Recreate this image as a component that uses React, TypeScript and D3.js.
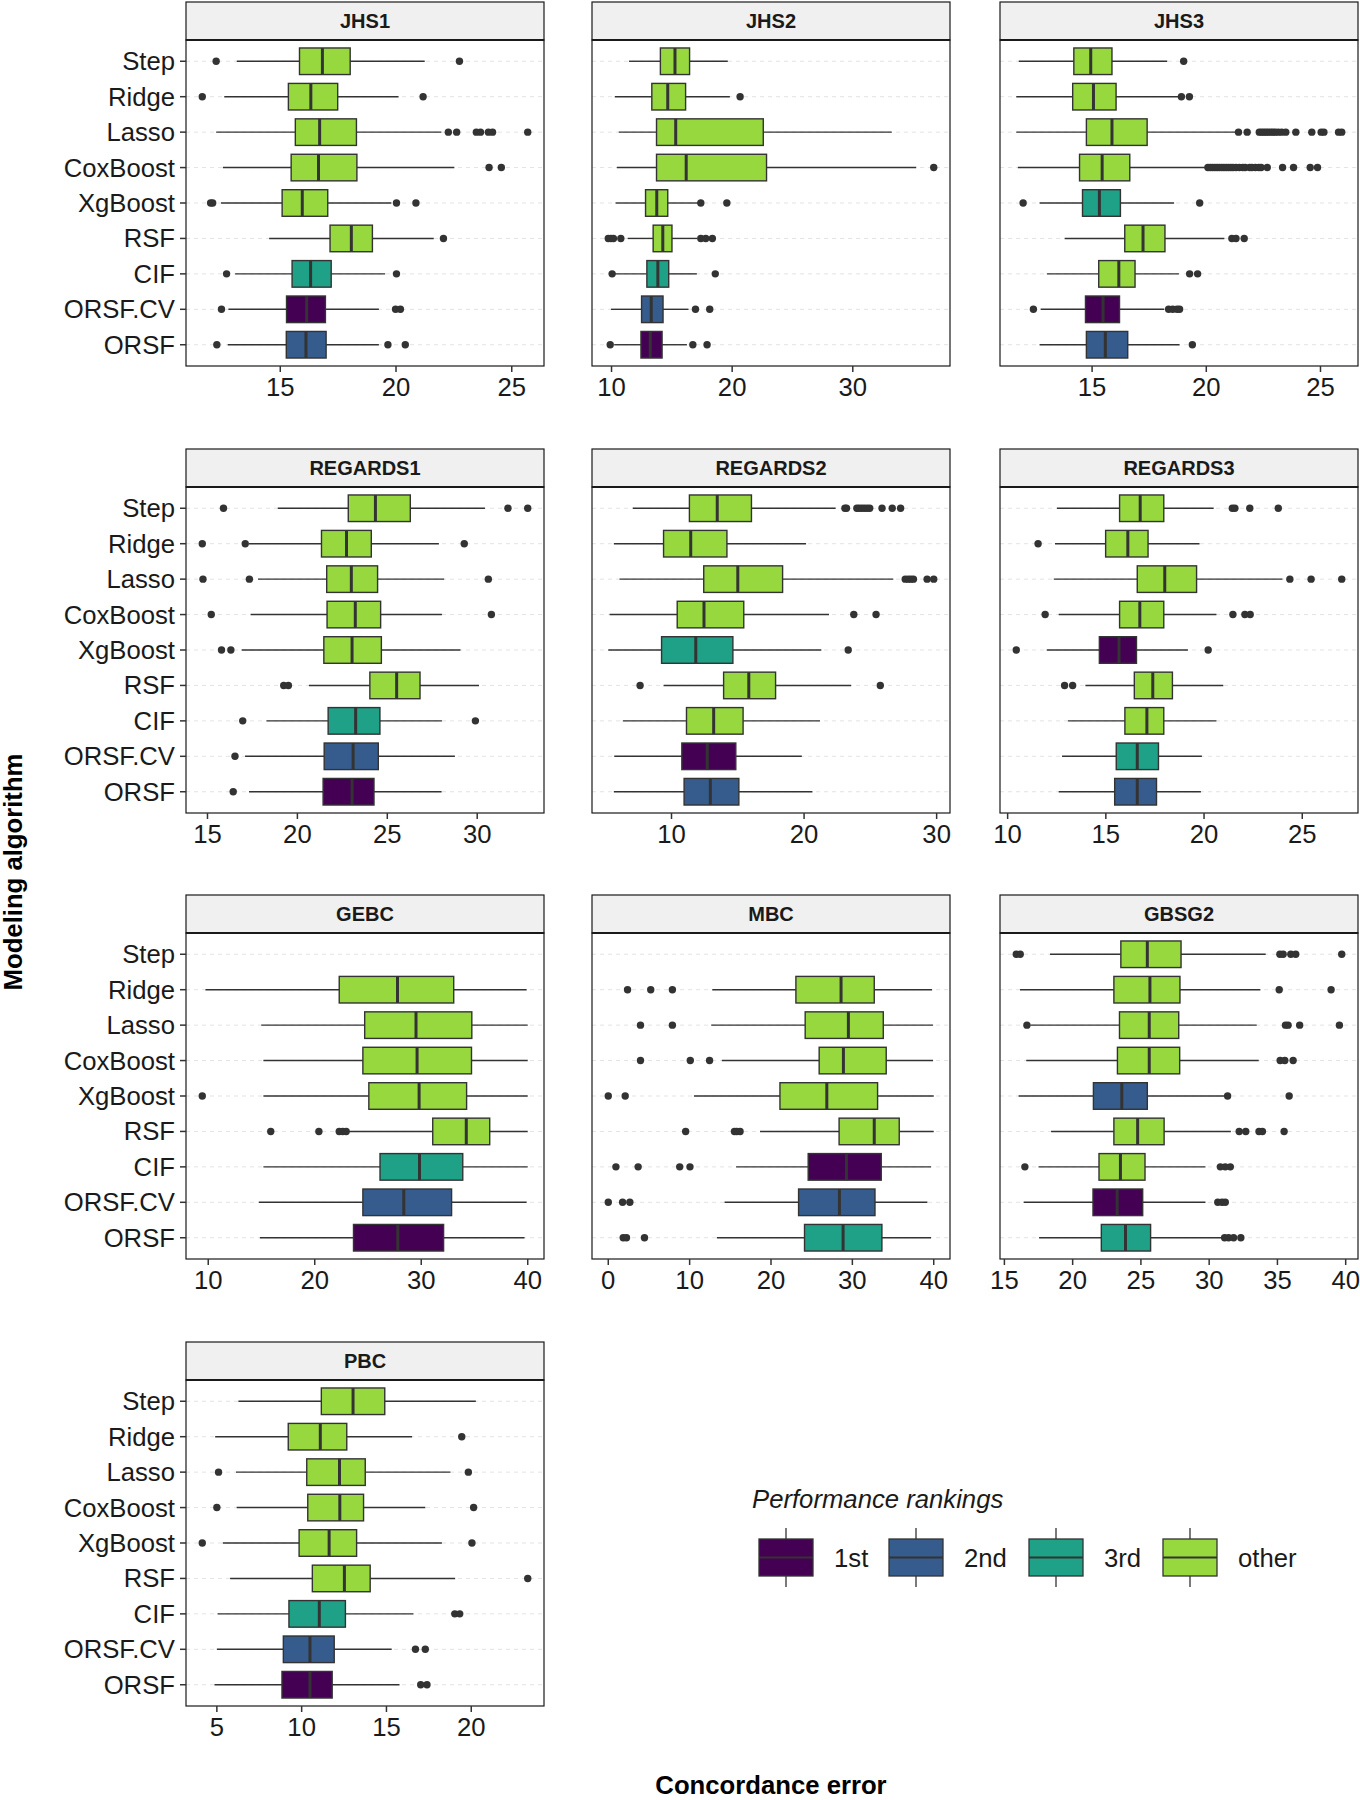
import React from "react";
import * as d3 from "d3";

const CATEGORIES = ["Step", "Ridge", "Lasso", "CoxBoost", "XgBoost", "RSF", "CIF", "ORSF.CV", "ORSF"];
const RANK_LABELS = ["1st", "2nd", "3rd", "other"];
const RANK_COLORS = ["#440154", "#365C8D", "#1FA187", "#97D83F"];

type Stat = number[] | null;

// [lower whisker, Q1, median, Q3, upper whisker], one per category
const JHS1_BOX: Stat[] = [
  [13.12, 15.83, 16.82, 18.02, 21.24], [12.58, 15.35, 16.32, 17.48, 20.11], [12.23, 15.65, 16.7, 18.29, 21.96],
  [12.52, 15.47, 16.65, 18.31, 22.52], [12.44, 15.08, 15.95, 17.05, 19.8], [14.52, 17.15, 18.07, 18.98, 21.63],
  [13.05, 15.51, 16.31, 17.2, 19.53], [12.76, 15.27, 16.14, 16.95, 19.26], [12.73, 15.26, 16.11, 16.98, 19.26],
];
const JHS1_OUT = [[12.23, 22.74], [11.63, 21.17], [22.26, 22.62, 23.47, 23.65, 23.99, 24.17, 25.69], [24.02, 24.55], [11.99, 12.08, 20.02, 20.86], [22.05], [12.68, 20.02], [12.46, 19.98, 20.19], [12.26, 19.65, 20.4]];
const JHS1_RANK = [3, 3, 3, 3, 3, 3, 2, 0, 1];
const JHS1_TICKS = [15, 20, 25];

const JHS2_BOX: Stat[] = [
  [11.45, 14.05, 15.26, 16.47, 19.64], [10.27, 13.34, 14.66, 16.14, 19.81], [10.6, 13.73, 15.32, 22.58, 33.23],
  [10.44, 13.73, 16.19, 22.85, 35.26], [10.33, 12.82, 13.75, 14.66, 17.2], [11.34, 13.45, 14.25, 15.01, 17.1],
  [10.15, 12.93, 13.84, 14.74, 17.07], [9.95, 12.49, 13.29, 14.27, 16.38], [10.22, 12.44, 13.21, 14.19, 16.25],
];
const JHS2_OUT = [[], [20.66], [], [36.71], [17.4, 19.56], [9.73, 9.95, 10.16, 10.77, 17.4, 17.81, 18.36], [10.05, 18.6], [16.96, 18.14], [9.89, 16.74, 17.92]];
const JHS2_RANK = [3, 3, 3, 3, 3, 3, 2, 1, 0];
const JHS2_TICKS = [10, 20, 30];

const JHS3_BOX: Stat[] = [
  [11.79, 14.2, 14.94, 15.87, 18.29], [11.68, 14.15, 15.06, 16.05, 18.79], [11.68, 14.75, 15.87, 17.41, 21.27],
  [11.75, 14.45, 15.44, 16.65, 19.96], [12.7, 14.58, 15.32, 16.24, 18.59], [13.8, 16.43, 17.23, 18.19, 20.79],
  [13.02, 15.29, 16.17, 16.88, 18.8], [12.75, 14.71, 15.48, 16.2, 18.16], [12.7, 14.75, 15.58, 16.56, 18.83],
];
const JHS3_OUT = [
  [19.01], [18.91, 19.26],
  [21.41, 21.79, 22.32, 22.42, 22.52, 22.62, 22.72, 22.82, 22.92, 23.02, 23.15, 23.3, 23.48, 23.92, 24.62, 25.03, 25.15, 25.79, 25.93],
  [20.07, 20.17, 20.27, 20.37, 20.47, 20.57, 20.67, 20.77, 20.87, 20.97, 21.07, 21.17, 21.3, 21.45, 21.6, 21.7, 21.9, 22.0, 22.15, 22.3, 22.4, 22.67, 23.34, 23.82, 24.55, 24.87],
  [11.98, 19.71], [21.12, 21.3, 21.66], [19.27, 19.62], [12.43, 18.35, 18.53, 18.72, 18.83], [19.39],
];
const JHS3_RANK = [3, 3, 3, 3, 2, 3, 3, 0, 1];
const JHS3_TICKS = [15, 20, 25];

const REGARDS1_BOX: Stat[] = [
  [18.91, 22.83, 24.34, 26.28, 30.43], [17.3, 21.34, 22.73, 24.11, 27.87], [17.81, 21.63, 23.0, 24.46, 28.16],
  [17.4, 21.65, 23.22, 24.63, 28.04], [16.9, 21.47, 23.04, 24.67, 29.07], [20.64, 24.03, 25.52, 26.82, 30.1],
  [18.28, 21.71, 23.24, 24.59, 28.04], [17.09, 21.49, 23.1, 24.5, 28.76], [17.31, 21.43, 23.04, 24.26, 28.02],
];
const REGARDS1_OUT = [[15.89, 31.71, 32.81], [14.71, 17.1, 29.28], [14.75, 17.33, 30.62], [15.21, 30.79], [15.78, 16.3], [19.24, 19.5], [16.96, 29.9], [16.53], [16.43]];
const REGARDS1_RANK = [3, 3, 3, 3, 3, 3, 2, 1, 0];
const REGARDS1_TICKS = [15, 20, 25, 30];

const REGARDS2_BOX: Stat[] = [
  [7.08, 11.35, 13.45, 16.03, 22.38], [5.65, 9.4, 11.45, 14.18, 20.15], [6.08, 12.43, 15.0, 18.38, 26.73],
  [5.33, 10.43, 12.45, 15.45, 21.88], [5.23, 9.25, 11.83, 14.63, 21.3], [9.4, 13.93, 15.83, 17.85, 23.55],
  [6.33, 11.13, 13.18, 15.4, 21.2], [5.68, 10.78, 12.7, 14.85, 19.83], [5.65, 10.95, 12.93, 15.08, 20.63],
];
const REGARDS2_OUT = [[23.08, 23.2, 23.98, 24.15, 24.35, 24.55, 24.75, 24.95, 25.88, 26.65, 27.28], [], [27.63, 27.85, 28.05, 28.25, 29.28, 29.78], [23.75, 25.43], [23.33], [7.63, 25.75], [], [], []];
const REGARDS2_RANK = [3, 3, 3, 3, 2, 3, 3, 0, 1];
const REGARDS2_TICKS = [10, 20, 30];

const REGARDS3_BOX: Stat[] = [
  [12.51, 15.7, 16.75, 17.95, 20.49], [12.41, 14.99, 16.12, 17.15, 19.77], [12.35, 16.6, 18.0, 19.62, 23.99],
  [12.6, 15.7, 16.73, 17.95, 20.63], [11.99, 14.67, 15.67, 16.56, 19.18], [13.96, 16.45, 17.39, 18.39, 20.98],
  [13.07, 15.97, 17.09, 17.95, 20.63], [12.77, 15.53, 16.6, 17.68, 19.89], [12.6, 15.45, 16.6, 17.58, 19.84],
];
const REGARDS3_OUT = [[21.44, 21.57, 22.33, 23.78], [11.55], [24.37, 25.45, 27.01], [11.91, 21.47, 22.08, 22.35], [10.44, 20.21], [12.9, 13.31], [], [], []];
const REGARDS3_RANK = [3, 3, 3, 3, 0, 3, 3, 2, 1];
const REGARDS3_TICKS = [10, 15, 20, 25];

const GEBC_BOX: Stat[] = [
  null, [9.74, 22.3, 27.77, 33.05, 39.9], [14.98, 24.69, 29.51, 34.75, 40.0],
  [15.18, 24.52, 29.61, 34.72, 40.0], [15.18, 25.08, 29.8, 34.26, 40.0], [23.21, 31.08, 34.23, 36.43, 40.0],
  [15.18, 26.13, 29.84, 33.9, 40.0], [14.75, 24.52, 28.36, 32.85, 39.9], [14.85, 23.64, 27.8, 32.1, 39.7],
];
const GEBC_OUT = [[], [], [], [], [9.44], [15.87, 20.39, 22.3, 22.62, 22.95], [], [], []];
const GEBC_RANK = [3, 3, 3, 3, 3, 3, 2, 1, 0];
const GEBC_TICKS = [10, 20, 30, 40];

const MBC_BOX: Stat[] = [
  null, [12.78, 23.06, 28.61, 32.69, 39.8], [12.65, 24.2, 29.51, 33.8, 39.92],
  [13.96, 25.92, 28.9, 34.16, 39.92], [10.53, 21.1, 26.86, 33.1, 40.0], [18.65, 28.37, 32.69, 35.76, 40.0],
  [15.71, 24.57, 29.27, 33.55, 39.67], [14.29, 23.39, 28.41, 32.78, 39.22], [13.35, 24.12, 28.86, 33.63, 39.67],
];
const MBC_OUT = [[], [2.37, 5.22, 7.88], [3.96, 7.88], [3.96, 10.08, 12.45], [0, 2.08], [9.51, 15.51, 15.8, 16.2], [0.94, 3.67, 8.78, 10.04], [0, 1.76, 2.65], [1.84, 2.24, 4.45]];
const MBC_RANK = [3, 3, 3, 3, 3, 3, 0, 1, 2];
const MBC_TICKS = [0, 10, 20, 30, 40];

const GBSG2_BOX: Stat[] = [
  [18.34, 23.53, 25.47, 27.94, 34.14], [16.14, 23.02, 25.66, 27.86, 33.75], [16.9, 23.43, 25.61, 27.77, 33.48],
  [16.6, 23.28, 25.61, 27.84, 33.63], [16.04, 21.52, 23.6, 25.47, 31.2], [18.42, 23.02, 24.76, 26.7, 31.59],
  [17.5, 21.93, 23.5, 25.3, 29.73], [16.41, 21.49, 23.26, 25.13, 29.73], [17.54, 22.1, 23.87, 25.71, 30.9],
];
const GBSG2_OUT = [[15.87, 16.16, 35.18, 35.42, 35.98, 36.34, 39.71], [35.13, 38.93], [16.65, 35.59, 35.78, 36.63, 39.54], [35.2, 35.54, 36.15], [31.35, 35.86], [32.2, 32.68, 33.65, 33.9, 35.49], [16.5, 30.82, 31.18, 31.55], [30.63, 30.94, 31.18], [31.13, 31.42, 31.79, 32.32]];
const GBSG2_RANK = [3, 3, 3, 3, 1, 3, 3, 0, 2];
const GBSG2_TICKS = [15, 20, 25, 30, 35, 40];

const PBC_BOX: Stat[] = [
  [6.27, 11.16, 13.03, 14.9, 20.27], [4.9, 9.21, 11.1, 12.66, 16.51], [6.13, 10.3, 12.23, 13.75, 18.77],
  [6.17, 10.36, 12.25, 13.65, 17.29], [5.35, 9.85, 11.62, 13.24, 18.27], [5.78, 10.63, 12.52, 14.04, 19.05],
  [5.04, 9.25, 11.04, 12.58, 16.59], [5.0, 8.92, 10.49, 11.92, 15.31], [4.86, 8.84, 10.49, 11.8, 15.77],
];
const PBC_OUT = [[], [19.44], [5.1, 19.83], [5.0, 20.14], [4.14, 20.04], [23.33], [19.03, 19.32], [16.71, 17.29], [17.02, 17.39]];
const PBC_RANK = [3, 3, 3, 3, 3, 3, 2, 1, 0];
const PBC_TICKS = [5, 10, 15, 20];

const PANELS = [
  { name: "JHS1", box: JHS1_BOX, out: JHS1_OUT, rank: JHS1_RANK, ticks: JHS1_TICKS },
  { name: "JHS2", box: JHS2_BOX, out: JHS2_OUT, rank: JHS2_RANK, ticks: JHS2_TICKS },
  { name: "JHS3", box: JHS3_BOX, out: JHS3_OUT, rank: JHS3_RANK, ticks: JHS3_TICKS },
  { name: "REGARDS1", box: REGARDS1_BOX, out: REGARDS1_OUT, rank: REGARDS1_RANK, ticks: REGARDS1_TICKS },
  { name: "REGARDS2", box: REGARDS2_BOX, out: REGARDS2_OUT, rank: REGARDS2_RANK, ticks: REGARDS2_TICKS },
  { name: "REGARDS3", box: REGARDS3_BOX, out: REGARDS3_OUT, rank: REGARDS3_RANK, ticks: REGARDS3_TICKS },
  { name: "GEBC", box: GEBC_BOX, out: GEBC_OUT, rank: GEBC_RANK, ticks: GEBC_TICKS },
  { name: "MBC", box: MBC_BOX, out: MBC_OUT, rank: MBC_RANK, ticks: MBC_TICKS },
  { name: "GBSG2", box: GBSG2_BOX, out: GBSG2_OUT, rank: GBSG2_RANK, ticks: GBSG2_TICKS },
  { name: "PBC", box: PBC_BOX, out: PBC_OUT, rank: PBC_RANK, ticks: PBC_TICKS },
];

const FONT = "'Liberation Sans', Arial, Helvetica, sans-serif";
const COL_LEFT = [186, 592, 1000];
const PANEL_W = 358;
const ROW_TOP = [2, 449, 895, 1342];
const STRIP_H = 38;
const BODY_H = 326;
const INK = "#333333";
const LABEL_SIZE = 25.7;

function Panel({ p, idx }: { p: any; idx: number }) {
  const row = Math.floor(idx / 3);
  const col = idx % 3;
  const x0 = COL_LEFT[col];
  const x1 = x0 + PANEL_W;
  const sTop = ROW_TOP[row];
  const bTop = sTop + STRIP_H;
  const bBot = bTop + BODY_H;

  const all: number[] = [];
  p.box.forEach((b: Stat) => b && all.push(...b));
  p.out.forEach((o: number[]) => all.push(...o));
  const [mn, mx] = d3.extent(all) as [number, number];
  const pad = (mx - mn) * 0.05;
  const x = d3.scaleLinear().domain([mn - pad, mx + pad]).range([x0, x1]);
  const y = d3.scalePoint<string>().domain(CATEGORIES).range([bTop, bBot]).padding(0.6);
  const bh = y.step() * 0.75;

  return (
    <g>
      <rect x={x0} y={sTop} width={PANEL_W} height={STRIP_H} fill="#F0F0F0" stroke="#1a1a1a" strokeWidth={1.2} />
      <text x={(x0 + x1) / 2} y={sTop + STRIP_H / 2 + 7} textAnchor="middle" fontFamily={FONT} fontWeight="bold" fontSize={20} fill="#1a1a1a">
        {p.name}
      </text>
      <rect x={x0} y={bTop} width={PANEL_W} height={BODY_H} fill="#ffffff" />
      {CATEGORIES.map((c) => (
        <line key={"g" + c} x1={x0} x2={x1} y1={y(c)} y2={y(c)} stroke="#E3E3E3" strokeWidth={1} strokeDasharray="4,4" />
      ))}
      {CATEGORIES.map((c, i) => {
        const b = p.box[i];
        const cy = y(c) as number;
        const fill = RANK_COLORS[p.rank[i]];
        return (
          <g key={"b" + c}>
            {b && (
              <>
                <line x1={x(b[0])} x2={x(b[1])} y1={cy} y2={cy} stroke={INK} strokeWidth={1.4} />
                <line x1={x(b[3])} x2={x(b[4])} y1={cy} y2={cy} stroke={INK} strokeWidth={1.4} />
                <rect x={x(b[1])} y={cy - bh / 2} width={x(b[3]) - x(b[1])} height={bh} fill={fill} stroke={INK} strokeWidth={1.4} />
                <line x1={x(b[2])} x2={x(b[2])} y1={cy - bh / 2} y2={cy + bh / 2} stroke={INK} strokeWidth={3} />
              </>
            )}
            {p.out[i].map((v: number, k: number) => (
              <circle key={k} cx={x(v)} cy={cy} r={3.7} fill={INK} />
            ))}
          </g>
        );
      })}
      <rect x={x0} y={bTop} width={PANEL_W} height={BODY_H} fill="none" stroke="#1a1a1a" strokeWidth={1.2} />
      <line x1={x0} x2={x1} y1={bTop} y2={bTop} stroke="#1a1a1a" strokeWidth={2} />
      {p.ticks.map((t: number) => (
        <g key={"t" + t}>
          <line x1={x(t)} x2={x(t)} y1={bBot} y2={bBot + 6} stroke={INK} strokeWidth={1.5} />
          <text x={x(t)} y={bBot + 30} textAnchor="middle" fontFamily={FONT} fontSize={LABEL_SIZE} fill="#1a1a1a">
            {t}
          </text>
        </g>
      ))}
      {col === 0 &&
        CATEGORIES.map((c) => (
          <g key={"y" + c}>
            <line x1={x0 - 6} x2={x0} y1={y(c)} y2={y(c)} stroke={INK} strokeWidth={1.5} />
            <text x={x0 - 11} y={(y(c) as number) + 9} textAnchor="end" fontFamily={FONT} fontSize={LABEL_SIZE} fill="#1a1a1a">
              {c}
            </text>
          </g>
        ))}
    </g>
  );
}

function Legend() {
  const keyX = [759, 889, 1029, 1163];
  const keyW = 54;
  const top = 1539;
  const h = 37;
  return (
    <g>
      <text x={752} y={1508} fontFamily={FONT} fontStyle="italic" fontSize={LABEL_SIZE} fill="#1a1a1a">
        Performance rankings
      </text>
      {RANK_LABELS.map((lab, i) => {
        const kx = keyX[i];
        const cx = kx + keyW / 2;
        return (
          <g key={lab}>
            <line x1={cx} x2={cx} y1={top - 11} y2={top + h + 11} stroke={INK} strokeWidth={1.3} />
            <rect x={kx} y={top} width={keyW} height={h} fill={RANK_COLORS[i]} stroke={INK} strokeWidth={1.3} />
            <line x1={kx} x2={kx + keyW} y1={top + h / 2} y2={top + h / 2} stroke={INK} strokeWidth={2.2} />
            <text x={kx + keyW + 21} y={top + h / 2 + 9} fontFamily={FONT} fontSize={LABEL_SIZE} fill="#1a1a1a">
              {lab}
            </text>
          </g>
        );
      })}
    </g>
  );
}

export default function App() {
  return (
    <svg width={1360} height={1800} style={{ position: "absolute", left: 0, top: 0, background: "#ffffff" }}>
      <rect x={0} y={0} width={1360} height={1800} fill="#ffffff" />
      {PANELS.map((p, i) => (
        <Panel key={p.name} p={p} idx={i} />
      ))}
      <Legend />
      <text transform="translate(22,872) rotate(-90)" textAnchor="middle" fontFamily={FONT} fontWeight="bold" fontSize={LABEL_SIZE} fill="#000">
        Modeling algorithm
      </text>
      <text x={771} y={1794} textAnchor="middle" fontFamily={FONT} fontWeight="bold" fontSize={LABEL_SIZE} fill="#000">
        Concordance error
      </text>
    </svg>
  );
}
